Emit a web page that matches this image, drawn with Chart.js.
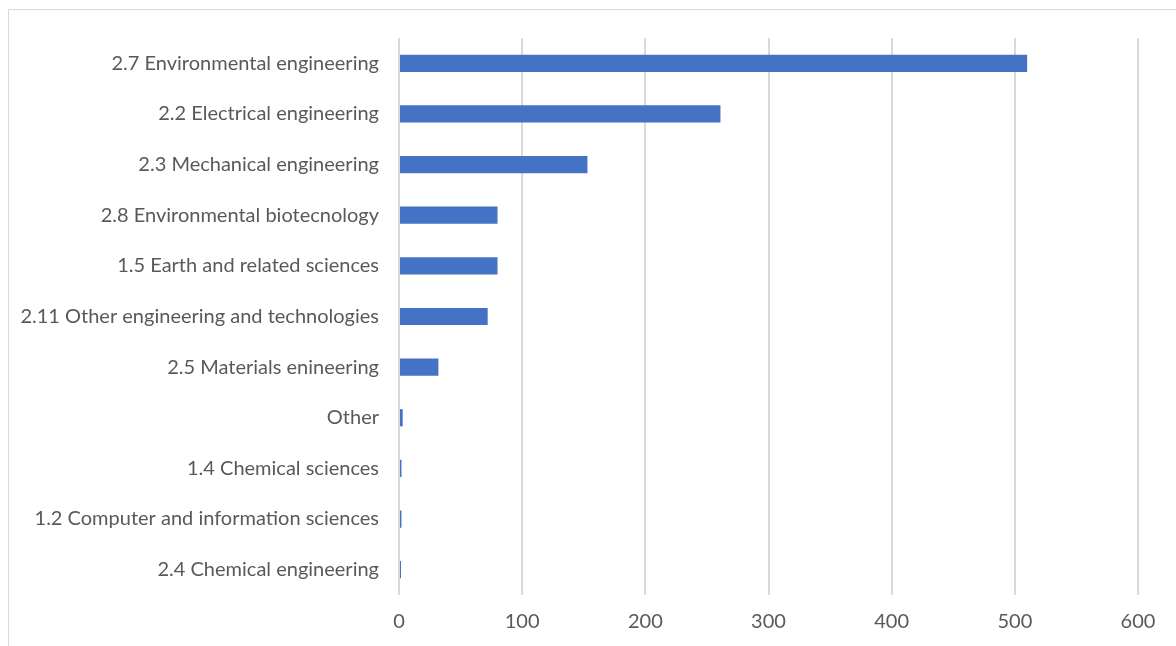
<!DOCTYPE html>
<html>
<head>
<meta charset="utf-8">
<script src="https://cdn.jsdelivr.net/npm/chart.js@4"></script>
<style>
    html, body { margin: 0; padding: 0; background: #fff; overflow: hidden; }
    #frame {
        position: absolute; left: 8px; top: 9px; width: 1300px; height: 800px;
        border: 1px solid #d9d9d9;
    }
    #wrap { position: absolute; left: 0; top: 0; width: 1176px; height: 646px; }
</style>
</head>
<body>
<div id="frame"></div>
<div id="wrap"><canvas id="chart"></canvas></div>
<script>
// --- data ---
const categories = [
    '2.7 Environmental engineering',
    '2.2 Electrical engineering',
    '2.3 Mechanical engineering',
    '2.8 Environmental biotecnology',
    '1.5 Earth and related sciences',
    '2.11 Other engineering and technologies',
    '2.5 Materials enineering',
    'Other',
    '1.4 Chemical sciences',
    '1.2 Computer and information sciences',
    '2.4 Chemical engineering'
];
const counts = [510, 261, 153, 80, 80, 72, 32, 3, 2, 2, 1];
const xTicks = [0, 100, 200, 300, 400, 500, 600];

const labelFont = { family: 'Lato, "Open Sans", sans-serif', size: 20 };

new Chart(document.getElementById('chart'), {
    type: 'bar',
    data: {
        labels: categories,
        datasets: [{
            data: counts,
            backgroundColor: '#4472C4',
            borderWidth: 0,
            minBarLength: 2,
            categoryPercentage: 1,
            barPercentage: 0.34
        }]
    },
    options: {
        indexAxis: 'y',
        responsive: true,
        maintainAspectRatio: false,
        animation: false,
        layout: { padding: { top: 38, right: 38, bottom: 0, left: 0 } },
        plugins: { legend: { display: false }, tooltip: { enabled: false } },
        scales: {
            x: {
                min: 0,
                max: 600,
                afterBuildTicks: (scale) => { scale.ticks = xTicks.map(v => ({ value: v })); },
                afterFit: (scale) => { scale.height = 51; },
                grid: { color: '#d9d9d9', lineWidth: 2, drawTicks: false },
                border: { display: false },
                ticks: { color: '#595959', font: labelFont, padding: 15 }
            },
            y: {
                afterFit: (scale) => { scale.width = 399; },
                grid: { display: false, drawTicks: false },
                border: { display: false },
                ticks: { color: '#595959', font: labelFont, padding: 20, autoSkip: false }
            }
        }
    }
});
</script>
</body>
</html>
